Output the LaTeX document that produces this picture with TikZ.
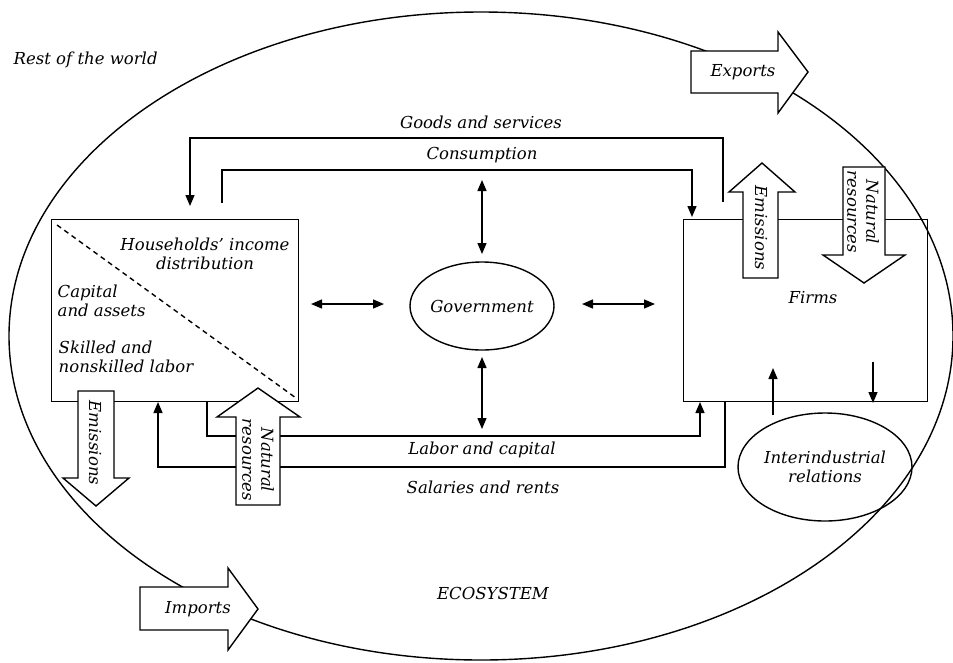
\documentclass[tikz,border=0pt]{standalone}
\usepackage{fontspec}
\setmainfont{DejaVu Serif}
\usetikzlibrary{arrows.meta,calc,shapes.geometric}
\begin{document}
\begin{tikzpicture}[x=1pt,y=-1pt,line width=1.4pt,
  lbl/.style={font=\fontsize{16.5}{18.5}\selectfont\itshape, inner sep=0pt},
  rlbl/.style={font=\fontsize{16.5}{19}\selectfont\itshape, inner sep=0pt, rotate=-90, align=center},
  arr/.style={-{Triangle[length=11pt,width=9pt]}},
  darr/.style={{Triangle[length=11pt,width=9pt]}-{Triangle[length=11pt,width=9pt]}},
  blk/.style={draw, fill=white, line width=1.4pt},
  box/.style={draw, inner sep=0pt, anchor=north west}]
\useasboundingbox (0,0) rectangle (953,662);
% outer ecosystem ellipse
\draw (481,336) ellipse [x radius=472pt, y radius=324pt];
% boxes
\node[box, minimum width=247pt, minimum height=182pt] (hh) at (51,219) {};
\node[box, minimum width=244pt, minimum height=182pt] (fi) at (683,219) {};
\coordinate (d1) at (57,225);
\coordinate (d2) at (296,398);
\draw[dash pattern=on 5pt off 4pt] (d1) -- (d2);
% ellipses
\node[draw, ellipse, minimum width=144pt, minimum height=88pt, inner sep=0pt] (gov) at (482,306) {};
\node[draw, ellipse, minimum width=174pt, minimum height=108pt, inner sep=0pt] (ii) at (825,467) {};
% text
\node[lbl, align=center] (hhtxt) at (205,254) {Households’ income\\distribution};
\node[lbl, align=left, anchor=west] (cap) at (57,301) {Capital\\and assets};
\node[lbl, align=left, anchor=west] (lab) at (58,357) {Skilled and\\nonskilled labor};
\node[lbl] (govt) at (482,306) {Government};
\node[lbl] (firms) at (813,298) {Firms};
\node[lbl, align=center] (iit) at (825,467) {Interindustrial\\relations};
\node[lbl] (gst) at (481,122) {Goods and services};
\node[lbl] (cst) at (482,155) {Consumption};
\node[lbl] (lct) at (482,450) {Labor and capital};
\node[lbl] (srt) at (483,487) {Salaries and rents};
\node[lbl, anchor=west] (row) at (13,60) {Rest of the world};
\node[lbl] (eco) at (493,593) {ECOSYSTEM};
% flow lines
\coordinate (gsA) at (723,202); \coordinate (gsB) at (190,138); \coordinate (gsC) at (190,206);
\draw[arr] (gsA) |- (gsB) -- (gsC);
\coordinate (csA) at (222,203); \coordinate (csB) at (692,170); \coordinate (csC) at (692,217);
\draw[arr] (csA) |- (csB) -- (csC);
\coordinate (lcA) at (207,401); \coordinate (lcB) at (700,436); \coordinate (lcC) at (700,402);
\draw[arr] (lcA) |- (lcB) -- (lcC);
\coordinate (srA) at (725,401); \coordinate (srB) at (158,467); \coordinate (srC) at (158,402);
\draw[arr] (srA) |- (srB) -- (srC);
% double arrows around government
\coordinate (h1) at (311,304); \coordinate (h2) at (384,304);
\coordinate (h3) at (582,304); \coordinate (h4) at (655,304);
\coordinate (v1) at (482,180); \coordinate (v2) at (482,254);
\coordinate (v3) at (482,357); \coordinate (v4) at (482,429);
\draw[darr] (h1) -- (h2);
\draw[darr] (h3) -- (h4);
\draw[darr] (v1) -- (v2);
\draw[darr] (v3) -- (v4);
% firms internal
\coordinate (fu1) at (773,415); \coordinate (fu2) at (773,368);
\coordinate (fd1) at (873,362); \coordinate (fd2) at (873,403);
\draw[arr] (fu1) -- (fu2);
\draw[arr] (fd1) -- (fd2);
% block arrows
\draw[blk] (691,51) -- (778,51) -- (778,32) -- (808,72) -- (778,113) -- (778,93) -- (691,93) -- cycle;
\node[lbl] (exp) at (743,72) {Exports};
\draw[blk] (140,587) -- (228,587) -- (228,568) -- (258,609) -- (228,650) -- (228,630) -- (140,630) -- cycle;
\node[lbl] (imp) at (198,609) {Imports};
% firm emissions (up)
\draw[blk] (743,278) -- (743,192) -- (729,192) -- (762,163) -- (795,192) -- (778,192) -- (778,278) -- cycle;
\node[rlbl] (fem) at (761,228) {Emissions};
% firm natural resources (down)
\draw[blk] (843,167) -- (843,255) -- (823,255) -- (864,283) -- (905,255) -- (885,255) -- (885,167) -- cycle;
\node[rlbl] (fnr) at (863,212) {Natural\\resources};
% households emissions (down)
\draw[blk] (78,391) -- (78,478) -- (63,478) -- (96,506) -- (129,478) -- (114,478) -- (114,391) -- cycle;
\node[rlbl] (hem) at (95,443) {Emissions};
% households natural resources (up)
\draw[blk] (236,505) -- (236,417) -- (217,417) -- (258,388) -- (300,417) -- (280,417) -- (280,505) -- cycle;
\node[rlbl] (hnr) at (258,460) {Natural\\resources};
\end{tikzpicture}
\end{document}
